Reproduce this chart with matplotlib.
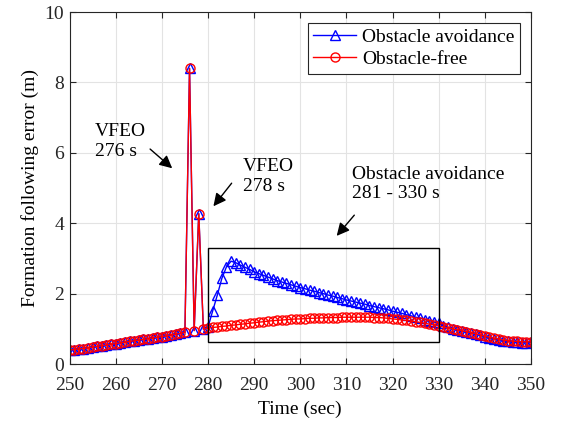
import numpy as np
import matplotlib
matplotlib.use("Agg")
import matplotlib.pyplot as plt
from matplotlib.patches import Rectangle

plt.rcParams['font.family'] = ['Liberation Serif', 'DejaVu Serif']
plt.rcParams['mathtext.fontset'] = 'stix'

# time axis, one sample per second
time = np.arange(250, 351)

# formation following error (m) with obstacle avoidance
err_avoid = [
    0.40, 0.41, 0.43, 0.44, 0.46, 0.48, 0.50, 0.52, 0.54, 0.56,
    0.58, 0.60, 0.62, 0.64, 0.66, 0.68, 0.70, 0.72, 0.74, 0.76,
    0.78, 0.80, 0.82, 0.85, 0.87, 0.90, 8.40, 0.95, 4.27, 0.99,
    1.05, 1.50, 1.95, 2.43, 2.76, 2.92, 2.88, 2.81, 2.75, 2.69,
    2.62, 2.57, 2.52, 2.47, 2.42, 2.37, 2.33, 2.29, 2.25, 2.21,
    2.17, 2.14, 2.10, 2.07, 2.03, 2.00, 1.96, 1.93, 1.89, 1.86,
    1.82, 1.79, 1.76, 1.73, 1.70, 1.66, 1.63, 1.60, 1.57, 1.54,
    1.50, 1.47, 1.44, 1.40, 1.37, 1.33, 1.30, 1.26, 1.23, 1.19,
    1.16, 1.09, 1.04, 1.00, 0.96, 0.93, 0.90, 0.87, 0.84, 0.81,
    0.77, 0.74, 0.71, 0.69, 0.66, 0.64, 0.63, 0.62, 0.61, 0.61,
    0.62,
]

# formation following error (m) without obstacles
err_free = [
    0.40, 0.41, 0.43, 0.44, 0.46, 0.48, 0.50, 0.52, 0.54, 0.56,
    0.58, 0.60, 0.62, 0.64, 0.66, 0.68, 0.70, 0.72, 0.74, 0.76,
    0.78, 0.80, 0.82, 0.85, 0.87, 0.90, 8.40, 0.95, 4.27, 0.99,
    1.02, 1.04, 1.05, 1.07, 1.08, 1.10, 1.11, 1.13, 1.14, 1.16,
    1.17, 1.19, 1.20, 1.22, 1.23, 1.24, 1.25, 1.26, 1.27, 1.28,
    1.28, 1.29, 1.30, 1.30, 1.31, 1.31, 1.32, 1.32, 1.32, 1.33,
    1.33, 1.33, 1.33, 1.33, 1.33, 1.33, 1.32, 1.32, 1.31, 1.30,
    1.28, 1.27, 1.25, 1.24, 1.22, 1.20, 1.18, 1.16, 1.13, 1.11,
    1.08, 1.05, 1.02, 1.00, 0.97, 0.95, 0.92, 0.89, 0.86, 0.83,
    0.79, 0.76, 0.73, 0.71, 0.68, 0.66, 0.65, 0.64, 0.63, 0.63,
    0.63,
]

fig = plt.figure(figsize=(5.61, 4.24), dpi=100)
ax = fig.add_axes([0.124, 0.1415, 0.8225, 0.830])

ax.plot(time, err_avoid, color='blue', lw=1.0, marker='^', ms=6.5,
        mfc='none', mew=1.0, label='Obstacle avoidance')
ax.plot(time, err_free, color='red', lw=1.0, marker='o', ms=6.5,
        mfc='none', mew=1.0, label='Obstacle-free')

# box around the avoidance window
ax.add_patch(Rectangle((280, 0.63), 50, 2.66, fill=False,
                       edgecolor='black', lw=1.0, zorder=5))

arrow = dict(arrowstyle='-|>', color='black', lw=1.0, mutation_scale=19)
ax.annotate('', xy=(272.7, 5.51), xytext=(267.0, 6.16), arrowprops=arrow)
ax.annotate('', xy=(280.8, 4.42), xytext=(285.5, 5.20), arrowprops=arrow)
ax.annotate('', xy=(307.5, 3.58), xytext=(312.1, 4.29), arrowprops=arrow)

ax.text(255.5, 6.33, 'VFEO\n276 s', fontsize=14, va='center', ha='left')
ax.text(287.6, 5.32, 'VFEO\n278 s', fontsize=14, va='center', ha='left')
ax.text(311.2, 5.12, 'Obstacle avoidance\n281 - 330 s', fontsize=14,
        va='center', ha='left')

ax.set_xlim(250, 350)
ax.set_ylim(0, 10)
ax.set_xticks(np.arange(250, 351, 10))
ax.set_yticks(np.arange(0, 11, 2))
ax.grid(True, color='#e3e3e3', lw=0.8)
ax.set_axisbelow(True)
ax.tick_params(direction='in', top=True, right=True, length=4,
               labelsize=14, colors='#262626', pad=4)
ax.tick_params(axis='x', pad=9)
for s in ax.spines.values():
    s.set_color('#262626')
    s.set_linewidth(0.8)

ax.set_xlabel('Time (sec)', fontsize=14, labelpad=5)
ax.set_ylabel('Formation following error (m)', fontsize=14, labelpad=4)

leg = ax.legend(loc='upper right', fontsize=14, fancybox=False,
                edgecolor='#262626', framealpha=1, handlelength=2.2,
                borderaxespad=0.55, labelspacing=0.2, handletextpad=0.3,
                borderpad=0.3)
leg.get_frame().set_linewidth(0.8)

fig.savefig('out.png', dpi=100)
